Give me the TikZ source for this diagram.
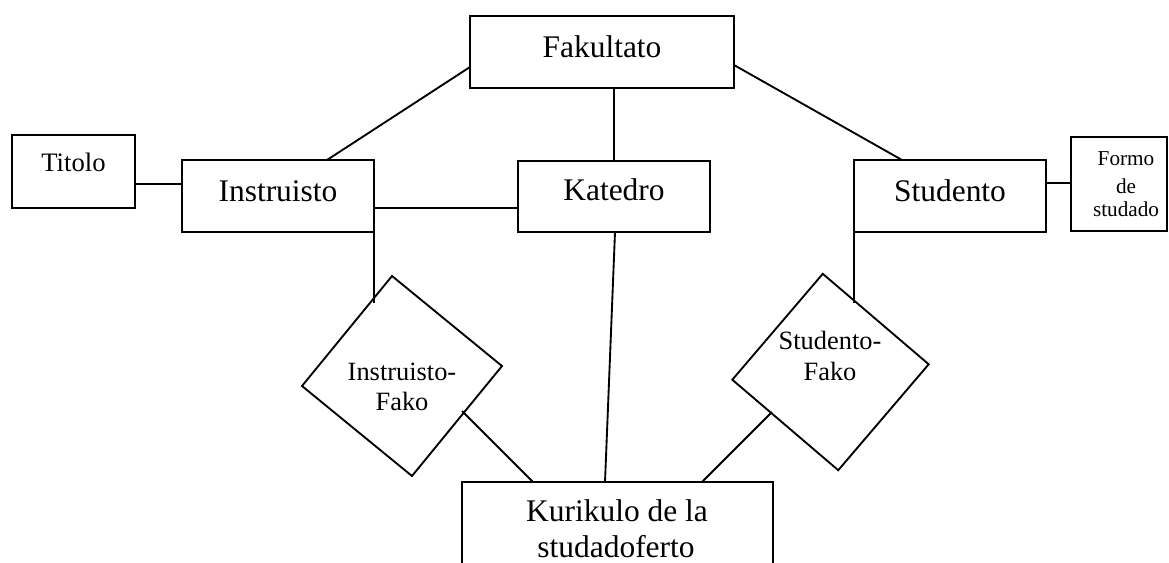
\documentclass[tikz,border=0pt]{standalone}
\usepackage{fontspec}
\setmainfont{Liberation Serif}
\usetikzlibrary{shapes.geometric,calc}
\begin{document}
\begin{tikzpicture}[x=0.75pt,y=-0.75pt,
  ln/.style={line width=1.4pt},
  ent/.style={draw,ln,rectangle,inner sep=0pt,outer sep=0pt},
  rel/.style={draw,ln,diamond,inner sep=0pt,outer sep=0pt},
  lbl/.style={anchor=base,inner sep=0pt,align=center},
  bigf/.style={font=\fontsize{23.6}{26.5}\selectfont},
  midf/.style={font=\fontsize{19.8}{22.5}\selectfont},
  titf/.style={font=\fontsize{20}{24}\selectfont},
  smallf/.style={font=\fontsize{15.9}{19}\selectfont}]
\useasboundingbox (0,0) rectangle (1169,562);
\clip (0,0) rectangle (1169,562);
% entity boxes
\node[ent,minimum width=198pt,minimum height=54pt] (fak) at (602,52) {};
\node[ent,minimum width=92.25pt,minimum height=54.75pt] (tit) at (73.5,171.5) {};
\node[ent,minimum width=144pt,minimum height=54pt] (ins) at (278,196) {};
\node[ent,minimum width=144pt,minimum height=53.25pt] (kat) at (614,196.5) {};
\node[ent,minimum width=144pt,minimum height=54pt] (stu) at (950,196) {};
\node[ent,minimum width=72pt,minimum height=70.5pt] (for) at (1119,184) {};
\node[ent,minimum width=233.25pt,minimum height=90pt,anchor=north west] (kur) at (462,482) {};
% relationship diamonds
\node[rel,minimum width=150.75pt,minimum height=150.75pt,rotate=5.7] (ifk) at (402,376) {};
\node[rel,minimum width=147.75pt,minimum height=147.75pt,rotate=4.5] (sfk) at (830.5,372) {};
% labels
\node[lbl,bigf] (tfak) at (602,57) {Fakultato};
\node[lbl,titf] (ttit) at (73.5,171.7) {Titolo};
\node[lbl,bigf] (tins) at (278,201.7) {Instruisto};
\node[lbl,bigf] (tkat) at (614,200.7) {Katedro};
\node[lbl,bigf] (tstu) at (950,201) {Studento};
\node[lbl,smallf] (tfor1) at (1126,165) {Formo};
\node[lbl,smallf] (tfor2) at (1126,193.3) {de};
\node[lbl,smallf] (tfor3) at (1126,216) {studado};
\node[lbl,midf] (tifk1) at (402,380) {Instruisto-};
\node[lbl,midf] (tifk2) at (402,410) {Fako};
\node[lbl,midf] (tsfk1) at (830,349.3) {Studento-};
\node[lbl,midf] (tsfk2) at (830,380) {Fako};
\node[lbl,bigf] (tkur1) at (617,521.7) {Kurikulo de la};
\node[lbl,bigf] (tkur2) at (616,557) {studadoferto};
% junction coordinates
\coordinate (j1) at (374,208);
\coordinate (ie) at (374,303);
\coordinate (se) at (854,303);
\coordinate (ifo) at (462,411);
\coordinate (sfo) at (772,412);
% connectors
\draw[ln] (fak.west |- 0,67) -- (ins.north -| 327,0);
\draw[ln] (fak.south -| 614,0) -- (kat.north -| 614,0);
\draw[ln] (fak.east |- 0,65) -- (stu.north -| 902,0);
\draw[ln] (tit.east |- 0,184) -- (ins.west |- 0,184);
\draw[ln] (ie) -- (j1) -- (kat.west |- j1);
\draw[ln] (stu.east |- 0,183) -- (for.west |- 0,183);
\draw[ln] (stu.south -| se) -- (se);
\draw[ln] (kat.south -| 615,0) -- (kur.north -| 605,0);
\draw[ln] (ifo) -- (kur.north -| 533,0);
\draw[ln] (sfo) -- (kur.north -| 702,0);
\end{tikzpicture}
\end{document}
